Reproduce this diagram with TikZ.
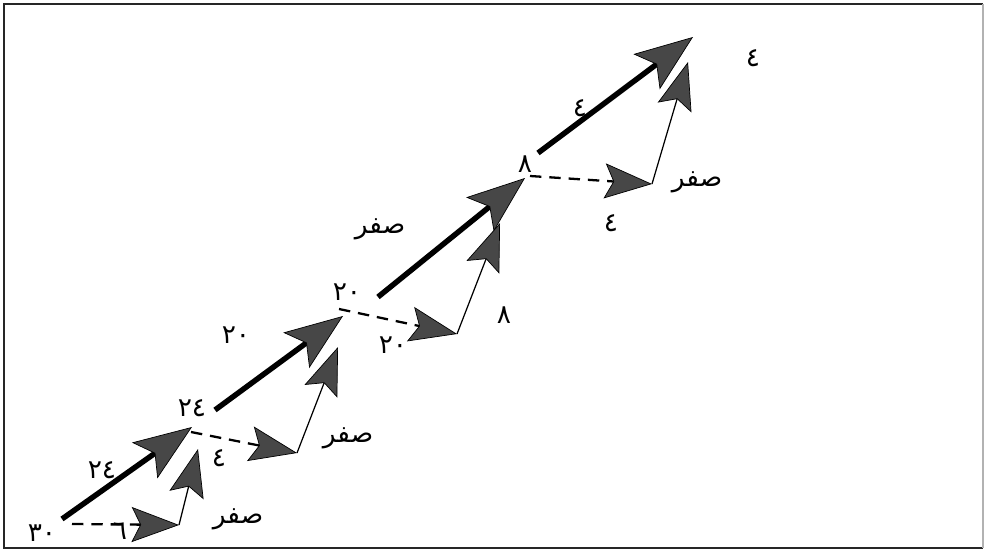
\documentclass[tikz,border=0pt]{standalone}
\usepackage{fontspec}
\newfontfamily\arabicfont[Script=Arabic]{DejaVu Sans}
\TeXXeTstate=1
\usetikzlibrary{arrows.meta}

\begin{document}
\begin{tikzpicture}[x=0.02cm, y=-0.02cm,
	lbl/.style = {font=\arabicfont\fontsize{15}{17}\selectfont, inner sep=0pt},
	total/.style = {line width=3.1pt, arrows = {-Stealth[length=33pt, width=25pt, inset=7pt, fill=black!72, line width=0.4pt]}},
	part/.style = {line width=0.7pt, arrows = {-Stealth[length=27pt, width=20pt, inset=5pt, fill=black!72, line width=0.4pt]}},
	flow/.style = {line width=1.3pt, dash pattern=on 6.5pt off 4.5pt, arrows = {-Stealth[length=27pt, width=20pt, inset=5pt, fill=black!72, line width=0.4pt]}}]
	\useasboundingbox (0,0) rectangle (985,551);
	% frame
	\draw[line width=1.4pt, black!85] (983,4) -- (4,4) -- (4,548) -- (983,548);
	\draw[line width=0.8pt, black!30] (983,4) -- (983,548);
	% points
	\coordinate (s0) at (62,519);
	\coordinate (q0) at (72,524);
	\coordinate (d1) at (179,525);
	\coordinate (u1) at (198,449);
	\coordinate (j1) at (192,427);
	\coordinate (s1) at (215,410);
	\coordinate (q1) at (191,432);
	\coordinate (d2) at (297,453);
	\coordinate (u2) at (338,347);
	\coordinate (j2) at (343,316);
	\coordinate (s2) at (378,297);
	\coordinate (q2) at (339,309);
	\coordinate (d3) at (457,334);
	\coordinate (u3) at (500,223);
	\coordinate (j3) at (525,178);
	\coordinate (s3) at (538,153);
	\coordinate (q3) at (530,176);
	\coordinate (d4) at (652,184);
	\coordinate (u4) at (688,62);
	\coordinate (j4) at (693,37);
	% arrows
	\draw (s0)[total] -- (j1);
	\draw (q0)[flow] -- (d1);
	\draw (d1)[part] -- (u1);
	\draw (s1)[total] -- (j2);
	\draw (q1)[flow] -- (d2);
	\draw (d2)[part] -- (u2);
	\draw (s2)[total] -- (j3);
	\draw (q2)[flow] -- (d3);
	\draw (d3)[part] -- (u3);
	\draw (s3)[total] -- (j4);
	\draw (q3)[flow] -- (d4);
	\draw (d4)[part] -- (u4);
	% labels
	\node[lbl] (v30) at (42,533) {٣٠};
	\node[lbl] (v6) at (120,531) {٦};
	\node[lbl] (v24a) at (102,470) {٢٤};
	\node[lbl] (z1) at (238,519) {\beginR صفر\endR};
	\node[lbl] (v4a) at (219,458) {٤};
	\node[lbl] (v24b) at (192,408) {٢٤};
	\node[lbl] (z2) at (348,438) {\beginR صفر\endR};
	\node[lbl] (v20a) at (236,335) {٢٠};
	\node[lbl] (v20b) at (347,292) {٢٠};
	\node[lbl] (v20c) at (393,345) {٢٠};
	\node[lbl] (v8a) at (504,315) {٨};
	\node[lbl] (z3) at (380,229) {\beginR صفر\endR};
	\node[lbl] (v8b) at (525,164) {٨};
	\node[lbl] (v4b) at (611,223) {٤};
	\node[lbl] (v4c) at (580,108) {٤};
	\node[lbl] (z4) at (697,182) {\beginR صفر\endR};
	\node[lbl] (v4d) at (753,58) {٤};
\end{tikzpicture}
\end{document}
